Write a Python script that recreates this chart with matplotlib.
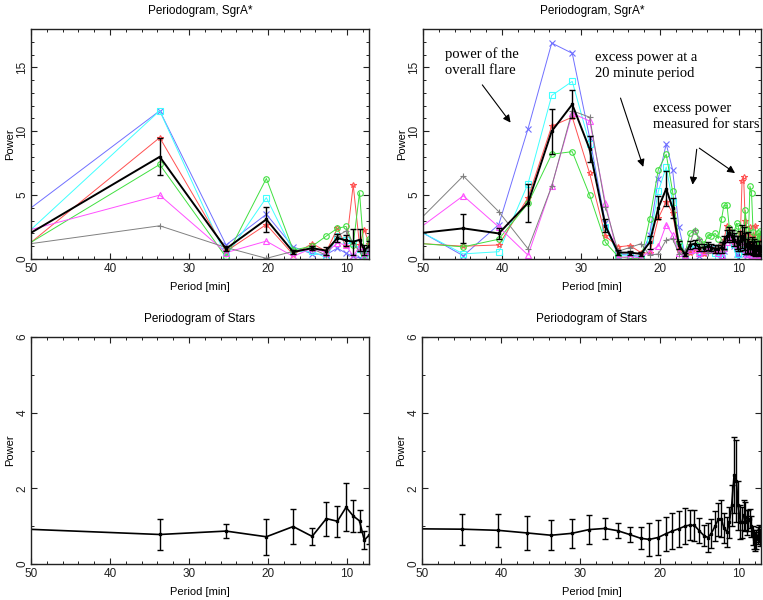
import matplotlib
matplotlib.use('Agg')
import matplotlib.pyplot as plt
from matplotlib.ticker import MultipleLocator

plt.rcParams['font.family'] = ['Liberation Sans', 'DejaVu Sans']

# coarse sampling (left column)
period_l = [50.5, 33.7, 25.3, 20.2, 16.8, 14.4, 12.6, 11.2, 10.1, 9.2, 8.4, 7.8, 7.2]
blue_l = [3.77, 11.6, 1.1, 3.5, 0.95, 0.4, 0.35, 0.85, 0.45, 0.2, 0.1, 0.1, 0.4]
cyan_l = [2.02, 11.6, 0.2, 4.8, 0.6, 0.6, 0.1, 1.8, 1.5, 1.25, 0.8, 0.3, 0.8]
red_l = [1.05, 9.5, 0.6, 2.7, 0.35, 1.2, 0.6, 2.4, 1.0, 5.8, 1.1, 2.3, 1.2]
green_l = [1.12, 7.4, 0.15, 6.3, 0.7, 1.0, 1.8, 2.4, 2.55, 1.1, 5.2, 0.35, 1.6]
magenta_l = [2.22, 5.0, 0.5, 1.4, 0.2, 0.85, 0.5, 1.25, 1.1, 0.2, 1.0, 0.2, 0.6]
gray_l = [1.16, 2.6, 0.9, 0.05, 0.6, 0.8, 0.3, 1.8, 2.2, 1.2, 0.6, 0.5, 0.9]
mean_l = [1.87, 8.0, 0.8, 3.1, 0.55, 0.85, 0.65, 1.65, 1.45, 1.35, 1.5, 0.7, 1.0]
err_l = [0.3, 1.45, 0.2, 0.95, 0.15, 0.15, 0.3, 0.3, 0.4, 1.0, 0.85, 0.4, 0.4]
stars_l = [0.92, 0.78, 0.87, 0.72, 0.99, 0.73, 1.2, 1.13, 1.5, 1.27, 1.14, 0.63, 0.76]
stars_err_l = [0.3, 0.4, 0.19, 0.47, 0.47, 0.23, 0.45, 0.41, 0.63, 0.42, 0.29, 0.23, 0.24]

# oversampled (right column)
period_r = [50.5, 44.9, 40.4, 36.7, 33.7, 31.1, 28.9, 26.9, 25.3, 23.8, 22.4, 21.3, 20.2,
            19.2, 18.4, 17.6, 16.8, 16.2, 15.6, 15.0, 14.4, 13.9, 13.5, 13.0, 12.6, 12.2,
            11.9, 11.5, 11.2, 10.9, 10.6, 10.3, 10.1, 9.8, 9.6, 9.4, 9.2, 9.0, 8.8, 8.6,
            8.4, 8.2, 8.1, 7.9, 7.8, 7.6, 7.5, 7.3, 7.2]
blue_r = [2.21, 0.25, 2.7, 10.2, 16.9, 16.1, 9.5, 2.8, 0.4, 0.3, 0.2, 1.9, 6.3, 9.0, 7.0, 2.5, 0.3,
          0.6, 0.9, 0.2, 0.5, 0.9, 0.7, 0.6, 0.5, 0.3, 0.6, 1.6, 1.9, 1.5, 1.0, 0.4, 0.1,
          0.8, 1.3, 0.9, 0.4, 0.2, 0.5, 0.1, 0.3, 0.6, 0.2, 0.1, 0.4, 0.2, 0.5, 0.1, 0.3]
cyan_r = [2.2, 0.4, 0.57, 5.9, 12.8, 13.9, 9.0, 2.5, 0.3, 0.3, 0.05, 1.5, 5.3, 7.2, 4.5, 1.0, 0.3,
          0.8, 1.0, 0.6, 0.7, 0.9, 0.8, 0.5, 0.1, 0.1, 0.9, 1.6, 2.0, 1.7, 1.2, 0.9, 0.4,
          1.0, 1.3, 1.0, 0.6, 0.8, 1.0, 0.4, 0.8, 0.6, 0.9, 0.3, 0.7, 0.4, 0.8, 0.5, 0.7]
red_r = [1.22, 1.0, 1.1, 4.8, 10.4, 11.1, 6.7, 1.8, 0.95, 1.05, 0.5, 0.45, 3.2, 4.5, 3.6, 0.7, 0.3,
         0.5, 0.6, 0.8, 0.4, 0.7, 0.9, 0.6, 0.8, 1.2, 1.5, 2.6, 2.3, 1.6, 1.3, 1.4, 1.2,
         2.0, 6.1, 6.4, 3.0, 1.5, 0.8, 2.5, 1.0, 1.9, 0.5, 2.6, 0.6, 1.2, 0.4, 1.9, 0.9]
green_r = [1.22, 0.95, 1.55, 4.35, 8.2, 8.4, 5.0, 1.3, 0.2, 0.05, 0.0, 3.1, 7.0, 8.2, 5.3, 1.3, 0.5,
           2.0, 2.2, 1.5, 1.2, 1.9, 1.8, 2.0, 1.6, 3.1, 4.2, 4.2, 2.4, 1.5, 2.1, 2.8, 2.6,
           1.2, 0.9, 1.6, 3.8, 2.3, 1.5, 5.7, 5.2, 2.1, 0.4, 1.5, 0.6, 2.0, 1.1, 2.2, 1.9]
magenta_r = [2.39, 4.95, 2.5, 0.3, 5.7, 11.4, 10.8, 4.4, 0.1, 0.2, 0.08, 0.6, 1.0, 2.7, 1.9, 0.5, 0.3,
             0.7, 0.8, 0.5, 0.6, 0.8, 0.9, 0.7, 0.5, 0.3, 0.9, 1.3, 1.6, 1.8, 1.5, 1.2, 1.0,
             1.3, 1.5, 1.1, 0.8, 0.4, 0.9, 0.5, 0.3, 0.6, 0.2, 0.5, 0.3, 0.4, 0.7, 0.3, 0.6]
gray_r = [3.02, 6.5, 3.7, 0.8, 5.7, 11.6, 11.1, 4.1, 0.6, 0.9, 1.2, 0.3, 0.4, 1.5, 1.6, 0.4, 0.6,
          1.2, 2.3, 1.6, 0.9, 0.5, 0.7, 0.8, 1.0, 1.3, 0.7, 1.8, 2.0, 2.2, 1.9, 1.1, 1.6,
          1.4, 1.2, 2.0, 1.7, 1.0, 0.9, 1.2, 0.7, 0.9, 0.5, 1.1, 0.4, 0.8, 0.6, 1.0, 0.5]
mean_r = [2.02, 2.4, 2.0, 4.4, 10.0, 12.1, 8.6, 2.6, 0.5, 0.5, 0.4, 1.3, 4.0, 5.5, 4.0, 1.1, 0.35,
          1.1, 1.2, 0.9, 0.9, 1.0, 0.9, 0.8, 0.8, 0.9, 1.3, 1.8, 2.0, 1.8, 1.5, 1.3, 1.2,
          1.4, 1.8, 1.6, 1.2, 1.0, 1.3, 0.9, 1.1, 0.8, 1.0, 0.6, 0.9, 0.7, 0.9, 0.6, 0.9]
err_r = [0.3, 1.15, 0.4, 1.5, 1.75, 1.1, 1.0, 0.5, 0.2, 0.15, 0.15, 0.5, 0.9, 1.35, 0.8, 0.3, 0.15,
         0.3, 0.3, 0.3, 0.3, 0.3, 0.3, 0.3, 0.3, 0.4, 0.5, 0.5, 0.5, 0.5, 0.5, 0.5, 0.6,
         0.8, 0.9, 0.9, 0.8, 0.6, 0.8, 0.5, 0.6, 0.5, 0.6, 0.4, 0.5, 0.4, 0.5, 0.4, 0.5]
stars_r = [0.93, 0.92, 0.89, 0.82, 0.76, 0.81, 0.91, 0.94, 0.88, 0.78, 0.68, 0.65, 0.7,
           0.8, 0.87, 0.93, 1.0, 1.03, 1.02, 0.88, 0.75, 0.7, 0.8, 1.0, 1.18, 1.2,
           0.95, 0.85, 1.1, 1.55, 2.35, 2.2, 1.55, 1.1, 1.1, 1.3, 1.25, 1.1, 1.15, 1.2,
           1.0, 0.75, 0.65, 0.6, 0.65, 0.75, 0.8, 0.7, 0.75]
stars_err_r = [0.4, 0.41, 0.44, 0.46, 0.4, 0.39, 0.38, 0.28, 0.2, 0.21, 0.29, 0.43, 0.46,
               0.45, 0.47, 0.48, 0.48, 0.4, 0.41, 0.33, 0.28, 0.38, 0.38, 0.4, 0.44, 0.48,
               0.4, 0.4, 0.4, 0.55, 1.0, 1.08, 0.65, 0.45, 0.4, 0.4, 0.38, 0.33, 0.28, 0.25,
               0.28, 0.25, 0.25, 0.25, 0.25, 0.23, 0.23, 0.22, 0.22]

series_style = [  # colour, marker
    ('#7070ff', 'x'), ('#40ffff', 's'), ('#ff5050', '*'),
    ('#40e040', 'o'), ('#ff50ff', '^'), ('#808080', '+'),
]

fig = plt.figure(figsize=(7.63, 6.0), dpi=100)
W, H = 763, 600


def make_ax(left, right, top, bottom):
    return fig.add_axes([left / W, 1 - bottom / H, (right - left) / W, (bottom - top) / H])


def style_ax(ax, ymax, ymajor, title):
    ax.set_xlim(50, 7.2)
    ax.set_ylim(0, ymax)
    ax.xaxis.set_major_locator(MultipleLocator(10))
    ax.xaxis.set_minor_locator(MultipleLocator(2))
    ax.yaxis.set_major_locator(MultipleLocator(ymajor))
    ax.yaxis.set_minor_locator(MultipleLocator(1))
    ax.tick_params(which='both', direction='in', top=True, right=True, labelsize=8.5, colors='#222222')
    ax.tick_params(which='major', length=4, width=0.8)
    ax.tick_params(which='minor', length=2, width=0.7)
    ax.tick_params(axis='x', pad=3)
    ax.tick_params(axis='y', labelrotation=90, pad=2)
    for lab in ax.get_yticklabels():
        lab.set_va('center')
    for s in ax.spines.values():
        s.set_linewidth(1.0)
        s.set_color('#222222')
    ax.set_title(title, fontsize=8.5, pad=11)
    ax.set_xlabel('Period [min]', fontsize=8, labelpad=5)
    ax.set_ylabel('Power', fontsize=8, labelpad=1)


def draw_flare(ax, period, series, mean, err):
    for (col, mk), vals in zip(series_style, series):
        ax.plot(period, vals, color=col, lw=0.7, marker=mk, ms=4, mfc='none', mew=0.8)
    ax.errorbar(period, mean, yerr=err, color='black', lw=1.4, elinewidth=1.0,
                capsize=2, marker='s', ms=2, zorder=5)


ax1 = make_ax(31, 369, 29, 259)
draw_flare(ax1, period_l, [blue_l, cyan_l, red_l, green_l, magenta_l, gray_l], mean_l, err_l)
style_ax(ax1, 18, 5, 'Periodogram, SgrA*')

ax2 = make_ax(423, 761, 29, 259)
draw_flare(ax2, period_r, [blue_r, cyan_r, red_r, green_r, magenta_r, gray_r], mean_r, err_r)
style_ax(ax2, 18, 5, 'Periodogram, SgrA*')

serif = dict(family=['Liberation Serif', 'DejaVu Serif'], fontsize=10.5, va='top', ha='left')
arr = dict(arrowstyle='-|>', color='black', lw=0.8, mutation_scale=11)
ax2.text(47.2, 16.6, 'power of the\noverall flare', linespacing=1.35, **serif)
ax2.annotate('', xy=(38.7, 10.5), xytext=(42.7, 13.8), arrowprops=arr)
ax2.text(28.2, 16.3, 'excess power at a\n20 minute period', linespacing=1.35, **serif)
ax2.annotate('', xy=(22.0, 7.0), xytext=(25.1, 12.8), arrowprops=arr)
ax2.text(20.85, 12.3, 'excess power\nmeasured for stars', linespacing=1.35, **serif)
ax2.annotate('', xy=(15.9, 5.6), xytext=(15.3, 8.8), arrowprops=arr)
ax2.annotate('', xy=(10.2, 6.6), xytext=(15.3, 8.8), arrowprops=arr)

ax3 = make_ax(31, 369, 337, 564)
ax3.errorbar(period_l, stars_l, yerr=stars_err_l, color='black', lw=1.2, elinewidth=1.0,
             capsize=2, marker='s', ms=2)
style_ax(ax3, 6, 2, 'Periodogram of Stars')

ax4 = make_ax(422, 761, 337, 564)
ax4.errorbar(period_r, stars_r, yerr=stars_err_r, color='black', lw=1.2, elinewidth=1.0,
             capsize=2, marker='s', ms=2)
style_ax(ax4, 6, 2, 'Periodogram of Stars')

fig.savefig('out.png', dpi=100)
